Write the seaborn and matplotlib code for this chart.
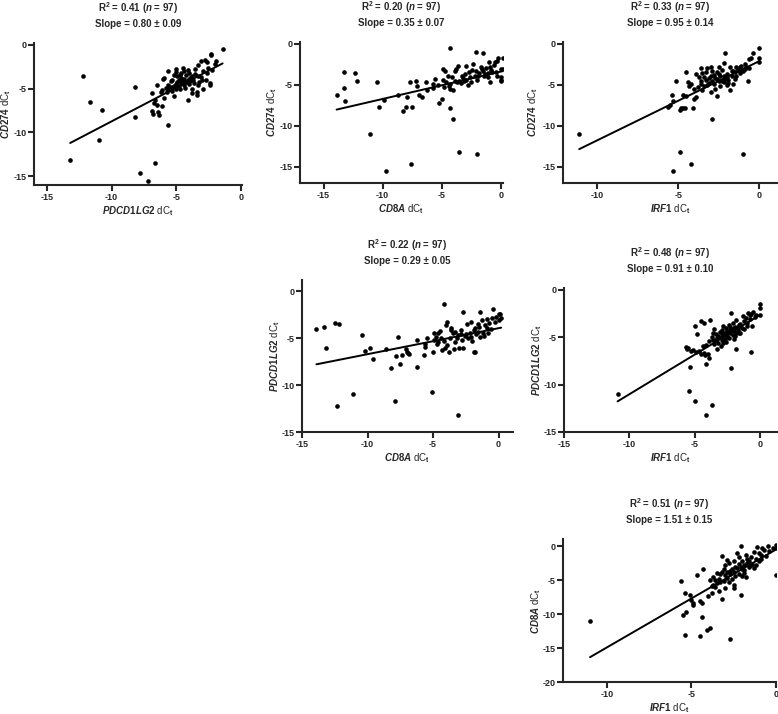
import matplotlib
matplotlib.use("Agg")
import matplotlib.pyplot as plt
import pandas as pd
import seaborn as sns

# (x dCt, y dCt) pairs
cd274_vs_pdcd1lg2 = [
    (-13.2, -13.2), (-12.2, -3.6), (-11.7, -6.5), (-11.0, -10.9), (-10.7, -7.4), (-8.2, -4.8),
    (-8.2, -8.2), (-7.8, -14.6), (-7.2, -15.5), (-6.6, -13.5), (-5.6, -9.2), (-6.9, -5.5),
    (-6.9, -7.6), (-6.8, -7.9), (-6.4, -7.7), (-6.3, -8.0), (-6.6, -6.3), (-6.7, -6.6),
    (-6.5, -6.9), (-6.1, -7.0), (-5.9, -6.1), (-6.5, -4.6), (-6.1, -5.2), (-5.2, -5.9),
    (-4.1, -6.3), (-3.4, -5.4), (-3.4, -5.7), (-3.8, -5.1), (-3.8, -5.5), (-2.9, -5.1),
    (-2.4, -4.4), (-2.4, -4.6), (-1.4, -0.5), (-2.3, -1.0), (-2.3, -1.2), (-2.8, -1.7),
    (-3.1, -1.8), (-3.3, -2.3), (-2.6, -3.2), (-2.2, -2.9), (-2.7, -4.0), (-2.0, -2.2),
    (-2.6, -2.0), (-1.9, -1.9), (-3.5, -2.8), (-2.9, -3.0), (-5.9, -3.8), (-6.0, -3.9),
    (-5.6, -3.0), (-5.0, -2.8), (-5.0, -3.1), (-4.5, -2.7), (-4.4, -3.0), (-4.1, -2.9),
    (-4.0, -3.2), (-3.8, -3.6), (-3.7, -4.0), (-3.1, -3.7), (-3.0, -4.0), (-3.5, -3.3),
    (-3.3, -3.6), (-4.7, -3.4), (-4.9, -3.6), (-4.6, -3.8), (-4.4, -3.9), (-4.2, -3.5),
    (-4.8, -4.0), (-5.2, -3.4), (-5.4, -4.1), (-5.6, -4.6), (-5.4, -4.8), (-5.2, -4.7),
    (-5.0, -4.5), (-4.8, -4.7), (-4.6, -4.4), (-4.4, -4.6), (-4.2, -4.3), (-4.0, -4.5),
    (-3.9, -4.1), (-5.8, -4.9), (-5.6, -5.0), (-5.0, -5.0), (-4.7, -5.1), (-4.3, -4.9),
    (-3.6, -4.4), (-3.3, -4.6), (-5.3, -5.3), (-4.9, -4.2), (-4.5, -4.1), (-3.9, -3.8),
    (-4.1, -4.0), (-5.3, -4.0), (-4.6, -3.2), (-2.5, -2.7), (-6.2, -5.4), (-5.7, -5.4),
    (-3.2, -4.3),
]

cd274_vs_cd8a = [
    (-13.9, -6.3), (-13.3, -3.5), (-13.2, -7.0), (-13.3, -5.4), (-12.3, -3.6), (-12.2, -4.5),
    (-10.5, -4.7), (-10.3, -7.7), (-9.9, -6.9), (-11.1, -11.0), (-9.7, -15.5), (-8.7, -6.3),
    (-8.3, -8.2), (-8.0, -7.7), (-7.9, -6.5), (-7.7, -4.7), (-7.5, -7.7), (-7.6, -14.7),
    (-7.2, -4.5), (-7.1, -5.2), (-6.9, -6.3), (-6.7, -6.5), (-6.3, -4.7), (-6.2, -5.7),
    (-5.7, -4.9), (-5.7, -5.4), (-5.6, -4.3), (-5.2, -7.3), (-5.0, -6.7), (-4.3, -7.8),
    (-4.0, -9.2), (-3.5, -13.2), (-2.0, -13.5), (-4.3, -0.5),
    (-4.9, -4.4), (-4.9, -3.1), (-4.7, -3.3), (-4.5, -4.0), (-4.3, -5.5), (-4.3, -4.9),
    (-4.0, -5.7), (-3.9, -4.5), (-3.8, -3.1), (-3.6, -2.7), (-3.5, -4.5), (-3.2, -4.2),
    (-3.0, -3.7), (-2.9, -4.4), (-2.7, -3.5), (-2.5, -4.7), (-2.2, -4.0), (-2.1, -3.3),
    (-1.9, -3.9), (-1.6, -3.1), (-1.5, -3.3), (-1.3, -3.7), (-1.1, -4.1), (-1.0, -2.3),
    (-0.9, -2.9), (-0.7, -3.5), (-0.4, -3.5), (-0.3, -2.1), (-0.2, -1.8), (0.0, -3.1),
    (0.0, -4.1), (0.0, -4.4), (0.2, -1.8), (0.2, -3.1), (-2.9, -2.7), (-2.1, -1.0),
    (-1.5, -1.2), (-0.9, -4.7), (-0.3, -3.9), (0.0, -4.6), (-4.6, -4.7), (-4.1, -4.1),
    (-3.7, -4.7), (-3.3, -3.9), (-3.1, -4.6), (-2.8, -5.1), (-2.4, -3.2), (-2.0, -4.4),
    (-1.8, -3.6), (-1.2, -3.0), (-0.6, -2.6), (-4.4, -5.2), (-3.9, -3.3), (-2.6, -4.1),
    (-1.4, -4.0), (-0.8, -3.2), (-5.3, -5.1), (-4.8, -5.3), (-3.4, -4.8), (-2.3, -2.5),
    (-1.7, -2.9), (-0.5, -2.2), (-1.1, -3.6),
]

cd274_vs_irf1 = [
    (-11.1, -11.0), (-5.3, -15.5), (-4.2, -14.7), (-4.9, -13.2), (-2.9, -9.2), (-1.0, -13.5),
    (-5.5, -7.5), (-5.6, -7.7), (-5.3, -7.0), (-5.4, -6.3), (-5.1, -4.5), (-4.9, -8.1),
    (-4.8, -7.8), (-4.7, -7.9), (-4.6, -7.8), (-4.7, -6.3), (-4.5, -3.5), (-4.4, -4.7),
    (-4.2, -4.9), (-4.1, -7.8), (-4.0, -6.7), (-3.9, -6.5), (-4.5, -6.4), (-0.7, -4.5),
    (-4.0, -5.5), (-3.9, -3.7), (-3.7, -4.1), (-3.6, -4.5), (-3.6, -4.9), (-3.5, -3.6),
    (-3.4, -5.2), (-3.3, -4.4), (-3.2, -3.0), (-3.1, -4.8), (-3.0, -5.9), (-3.0, -2.8),
    (-2.9, -4.6), (-2.8, -3.8), (-2.8, -4.9), (-2.7, -4.2), (-2.6, -6.4), (-2.6, -3.5),
    (-2.5, -4.5), (-2.4, -4.0), (-2.4, -5.2), (-2.3, -3.2), (-2.2, -4.7), (-2.2, -2.4),
    (-2.1, -4.3), (-2.0, -3.7), (-2.0, -5.1), (-1.9, -4.4), (-1.8, -2.8), (-1.8, -5.7),
    (-1.7, -4.0), (-1.7, -3.3), (-1.6, -4.9), (-1.5, -3.5), (-1.4, -2.9), (-1.3, -3.2),
    (-1.2, -3.6), (-1.1, -3.3), (-1.0, -3.3), (-0.9, -3.1), (-0.8, -2.9), (-0.6, -3.0),
    (-0.6, -1.9), (-0.5, -1.7), (-0.4, -1.2), (0.0, -0.5), (0.0, -1.8), (0.0, -2.3),
    (-2.1, -1.1), (-3.3, -3.5), (-3.5, -5.6), (-3.0, -4.0), (-2.6, -4.3), (-2.3, -4.6),
    (-1.9, -4.8), (-1.5, -4.3), (-3.8, -5.3), (-2.9, -3.3), (-2.5, -2.9), (-1.4, -3.9),
    (-4.3, -5.2), (-3.2, -5.1), (-2.7, -5.5), (-2.2, -3.9), (-1.6, -3.3), (-1.1, -2.7),
    (-3.6, -3.0), (-2.0, -4.1), (-3.4, -4.1), (-2.5, -3.7), (-1.2, -2.8), (-0.9, -2.5),
    (-3.1, -4.2),
]

pdcd1lg2_vs_cd8a = [
    (-13.9, -4.05), (-13.3, -3.8), (-13.2, -6.0), (-12.5, -3.4), (-12.2, -3.5), (-12.3, -12.2),
    (-11.1, -11.0), (-10.4, -4.7), (-10.2, -6.4), (-9.8, -6.0), (-9.6, -7.2), (-8.6, -6.2),
    (-8.2, -8.2), (-7.9, -11.7), (-7.8, -6.9), (-7.7, -4.9), (-7.5, -7.8), (-7.4, -6.8),
    (-7.1, -6.2), (-7.0, -6.5), (-6.9, -6.6), (-6.8, -6.7), (-6.2, -8.1), (-6.2, -5.2),
    (-5.7, -6.8), (-5.6, -5.6), (-5.6, -5.9), (-5.5, -5.0), (-5.1, -10.7), (-5.0, -6.5),
    (-4.2, -1.4), (-3.1, -13.2),
    (-4.9, -4.4), (-4.9, -5.2), (-4.8, -4.9), (-4.7, -5.6), (-4.6, -4.5), (-4.5, -4.2),
    (-4.4, -5.0), (-4.3, -6.3), (-4.2, -5.3), (-4.1, -6.0), (-4.0, -3.6), (-3.9, -3.3),
    (-3.9, -5.7), (-3.8, -6.5), (-3.7, -5.0), (-3.6, -4.1), (-3.5, -4.5), (-3.4, -6.2),
    (-3.3, -5.4), (-3.2, -5.0), (-3.1, -4.7), (-3.0, -6.0), (-2.9, -4.1), (-2.8, -5.2),
    (-2.7, -2.2), (-2.7, -6.1), (-2.6, -4.8), (-2.5, -4.6), (-2.4, -3.5), (-2.3, -5.0),
    (-2.2, -4.4), (-2.1, -3.3), (-2.0, -5.3), (-1.9, -6.5), (-1.9, -4.1), (-1.8, -3.9),
    (-1.7, -4.6), (-1.6, -4.3), (-1.5, -3.8), (-1.4, -2.2), (-1.4, -4.9), (-1.3, -3.1),
    (-1.2, -4.4), (-1.1, -4.8), (-1.0, -3.6), (-0.9, -3.9), (-0.8, -4.5), (-0.7, -3.4),
    (-0.6, -4.0), (-0.5, -2.8), (-0.4, -1.9), (-0.3, -3.3), (-0.2, -2.7), (0.0, -2.4),
    (0.0, -3.1), (0.1, -2.4), (0.2, -2.8), (-4.6, -5.4), (-3.6, -3.9), (-2.9, -4.6),
    (-2.1, -4.9), (-1.6, -3.5), (-0.9, -3.0), (-3.3, -4.3), (-1.8, -6.5),
]

pdcd1lg2_vs_irf1 = [
    (-10.9, -11.0), (-5.4, -10.7), (-5.0, -11.7), (-4.1, -13.2), (-3.65, -12.2), (-5.35, -8.15),
    (-2.2, -8.2), (-0.7, -6.6), (-1.8, -6.2), (-5.0, -3.8), (-4.8, -4.7), (-4.5, -3.3),
    (-4.3, -3.5), (-3.8, -3.2), (-4.1, -7.8), (-5.7, -6.0), (-5.6, -6.2), (-5.5, -6.1),
    (-5.3, -6.5), (-5.1, -6.3), (-4.9, -6.6), (-4.7, -6.4), (-4.5, -6.8), (-4.3, -6.7),
    (-4.2, -6.9), (-4.0, -6.8), (-3.9, -7.2), (-4.4, -5.9), (-4.1, -5.8), (-3.9, -5.4),
    (-3.7, -5.0), (-3.6, -5.3), (-3.5, -5.7), (-3.4, -4.7), (-3.3, -5.1), (-3.3, -6.2),
    (-3.2, -5.6), (-3.1, -4.4), (-3.0, -5.0), (-3.0, -5.9), (-2.9, -4.2), (-2.9, -5.3),
    (-2.8, -4.8), (-2.8, -3.8), (-2.7, -5.2), (-2.7, -4.5), (-2.6, -4.0), (-2.6, -5.5),
    (-2.5, -4.3), (-2.5, -4.9), (-2.4, -3.7), (-2.4, -5.1), (-2.3, -4.6), (-2.2, -4.1),
    (-2.2, -2.4), (-2.1, -4.8), (-2.1, -3.5), (-2.0, -4.3), (-2.0, -5.2), (-1.9, -3.9),
    (-1.8, -4.6), (-1.8, -3.2), (-1.7, -4.2), (-1.6, -4.5), (-1.5, -3.6), (-1.4, -4.0),
    (-1.3, -2.8), (-1.2, -3.3), (-1.1, -3.0), (-1.0, -3.5), (-0.9, -2.4), (-0.8, -3.1),
    (-0.7, -2.5), (-0.6, -3.8), (-0.5, -2.3), (-0.4, -2.9), (-0.3, -2.6), (0.0, -1.5),
    (0.0, -1.9), (0.0, -2.7), (-3.5, -4.1), (-3.2, -4.9), (-2.9, -4.5), (-2.6, -4.7),
    (-2.3, -3.9), (-1.9, -4.9), (-1.6, -3.7), (-1.2, -4.1), (-3.6, -4.5), (-2.4, -4.3),
    (-1.7, -3.9), (-1.0, -3.8), (-2.0, -4.0), (-2.8, -5.6), (-3.4, -5.3), (-1.5, -4.6),
    (-0.8, -2.6),
]

cd8a_vs_irf1 = [
    (-11.0, -11.0), (-5.6, -5.1), (-5.4, -6.9), (-5.5, -10.1), (-5.3, -9.6), (-5.4, -13.0),
    (-5.1, -7.2), (-5.0, -7.9), (-4.9, -8.4), (-4.9, -8.7), (-4.7, -4.2), (-4.5, -8.0),
    (-4.4, -8.4), (-4.4, -10.4), (-4.5, -13.2), (-4.3, -3.4), (-4.1, -12.3), (-3.9, -12.1),
    (-3.2, -7.7), (-2.5, -6.2), (-2.1, -7.1), (-2.7, -13.7), (0.0, -4.2), (-3.8, -6.9),
    (-4.0, -7.3),
    (-3.9, -5.0), (-3.8, -5.8), (-3.7, -5.7), (-3.6, -6.0), (-3.6, -4.9), (-3.5, -5.4),
    (-3.4, -4.8), (-3.4, -6.5), (-3.3, -5.2), (-3.3, -4.1), (-3.2, -3.8), (-3.2, -1.4),
    (-3.1, -5.1), (-3.0, -4.2), (-3.0, -6.1), (-2.9, -3.7), (-2.9, -4.6), (-2.8, -5.3),
    (-2.8, -2.5), (-2.7, -4.0), (-2.6, -3.4), (-2.6, -4.8), (-2.5, -2.2), (-2.5, -3.8),
    (-2.4, -4.4), (-2.3, -1.0), (-2.3, -3.2), (-2.2, -4.0), (-2.2, -1.5), (-2.1, 0.0),
    (-2.1, -3.0), (-2.0, -2.1), (-2.0, -4.3), (-1.9, -2.8), (-1.9, -3.5), (-1.8, -1.2),
    (-1.8, -4.5), (-1.7, -2.4), (-1.6, -3.1), (-1.5, -1.6), (-1.4, -2.6), (-1.3, -0.8),
    (-1.3, -3.2), (-1.2, -1.9), (-1.1, -0.1), (-1.0, -2.2), (-0.9, -1.2), (-0.8, -0.3),
    (-0.7, -0.5), (-0.6, -1.4), (-0.5, 0.0), (-0.4, -0.7), (-0.2, -0.2), (0.0, 0.2),
    (0.0, -0.3), (-2.4, -3.0), (-2.7, -3.6), (-3.0, -2.8), (-2.0, -3.3), (-1.6, -2.2),
    (-3.5, -3.9), (-1.2, -2.8), (-2.2, -2.6), (-1.7, -1.8), (-1.0, -0.9), (-3.1, -3.3),
    (-2.5, -5.7), (-1.9, -3.9), (-3.7, -4.5), (-2.9, -2.0), (-0.9, -1.9), (-1.5, -2.7),
]

x_genes = ["PDCD1LG2", "CD8A", "IRF1", "CD8A", "IRF1", "IRF1"]
y_genes = ["CD274", "CD274", "CD274", "PDCD1LG2", "PDCD1LG2", "CD8A"]
r2_values = ["0.41", "0.20", "0.33", "0.22", "0.48", "0.51"]
slope_labels = ["0.80 ± 0.09", "0.35 ± 0.07", "0.95 ± 0.14",
                "0.29 ± 0.05", "0.91 ± 0.10", "1.51 ± 0.15"]
n_samples = 97

sns.set_style("ticks")
plt.rcParams["font.family"] = ["Liberation Sans", "DejaVu Sans"]
plt.rcParams["font.weight"] = "bold"
plt.rcParams["axes.unicode_minus"] = False
plt.rcParams["mathtext.fontset"] = "custom"
plt.rcParams["mathtext.rm"] = "Liberation Sans:bold"
plt.rcParams["mathtext.it"] = "Liberation Sans:italic:bold"
plt.rcParams["mathtext.bf"] = "Liberation Sans:bold"

W, H = 778, 714
fig = plt.figure(figsize=(W / 100, H / 100), dpi=100)

# pixel boxes (left, top, right, bottom), y-label pixel x, and axis setup for each panel
panels = [
    (cd274_vs_pdcd1lg2, (34, 43, 242, 185), 13, (-16, 0.1), (-16, 0.2), [-15, -10, -5, 0], [0, -5, -10, -15]),
    (cd274_vs_cd8a, (300, 42, 503, 183), 279, (-17, 0.2), (-17, 0.2), [-15, -10, -5, 0], [0, -5, -10, -15]),
    (cd274_vs_irf1, (563, 42, 777, 183), 540, (-12.1, 1.1), (-17, 0.2), [-10, -5, 0], [0, -5, -10, -15]),
    (pdcd1lg2_vs_cd8a, (302, 280, 513, 432), 282, (-15, 1.1), (-15, 1.2), [-15, -10, -5, 0], [0, -5, -10, -15]),
    (pdcd1lg2_vs_irf1, (564, 288, 777, 432), 544, (-15, 1.3), (-15, 0.2), [-15, -10, -5, 0], [0, -5, -10, -15]),
    (cd8a_vs_irf1, (563, 539, 776, 682), 543, (-12.6, 0), (-20, 1.1), [-10, -5, 0], [0, -5, -10, -15, -20]),
]

for i, (pairs, box, ylab_x, xlim, ylim, xt, yt) in enumerate(panels):
    l, t, r, b = box
    ax = fig.add_axes([l / W, 1 - b / H, (r - l) / W, (b - t) / H])
    df = pd.DataFrame(pairs, columns=["x", "y"])
    sns.regplot(data=df, x="x", y="y", ax=ax, ci=None, color="black",
                scatter_kws={"s": 11, "linewidths": 0, "alpha": 1},
                line_kws={"lw": 1.4})
    ax.set_xlim(*xlim)
    ax.set_ylim(*ylim)
    ax.set_xticks(xt)
    ax.set_yticks(yt)
    sns.despine(ax=ax)
    for side in ["left", "bottom"]:
        ax.spines[side].set_linewidth(1.5)
    ax.tick_params(direction="out", length=4, width=1.5, labelsize=6.5, pad=1.5)
    ax.set_xlabel(f"$\\mathit{{{x_genes[i]}}}$ dC$_\\mathrm{{t}}$", fontsize=7, labelpad=1.5)
    ax.set_ylabel(f"$\\mathit{{{y_genes[i]}}}$ dC$_\\mathrm{{t}}$", fontsize=7)
    ax.yaxis.set_label_coords((ylab_x - l) / (r - l), 0.5)
    ax.annotate(f"R$^2$ = {r2_values[i]} ($\\mathit{{n}}$ = {n_samples})",
                xy=(0.5, 1), xycoords="axes fraction", xytext=(0, 25),
                textcoords="offset points", ha="center", va="center", fontsize=7)
    ax.annotate(f"Slope = {slope_labels[i]}",
                xy=(0.5, 1), xycoords="axes fraction", xytext=(0, 13.5),
                textcoords="offset points", ha="center", va="center", fontsize=7)

fig.savefig("out.png", dpi=100)
